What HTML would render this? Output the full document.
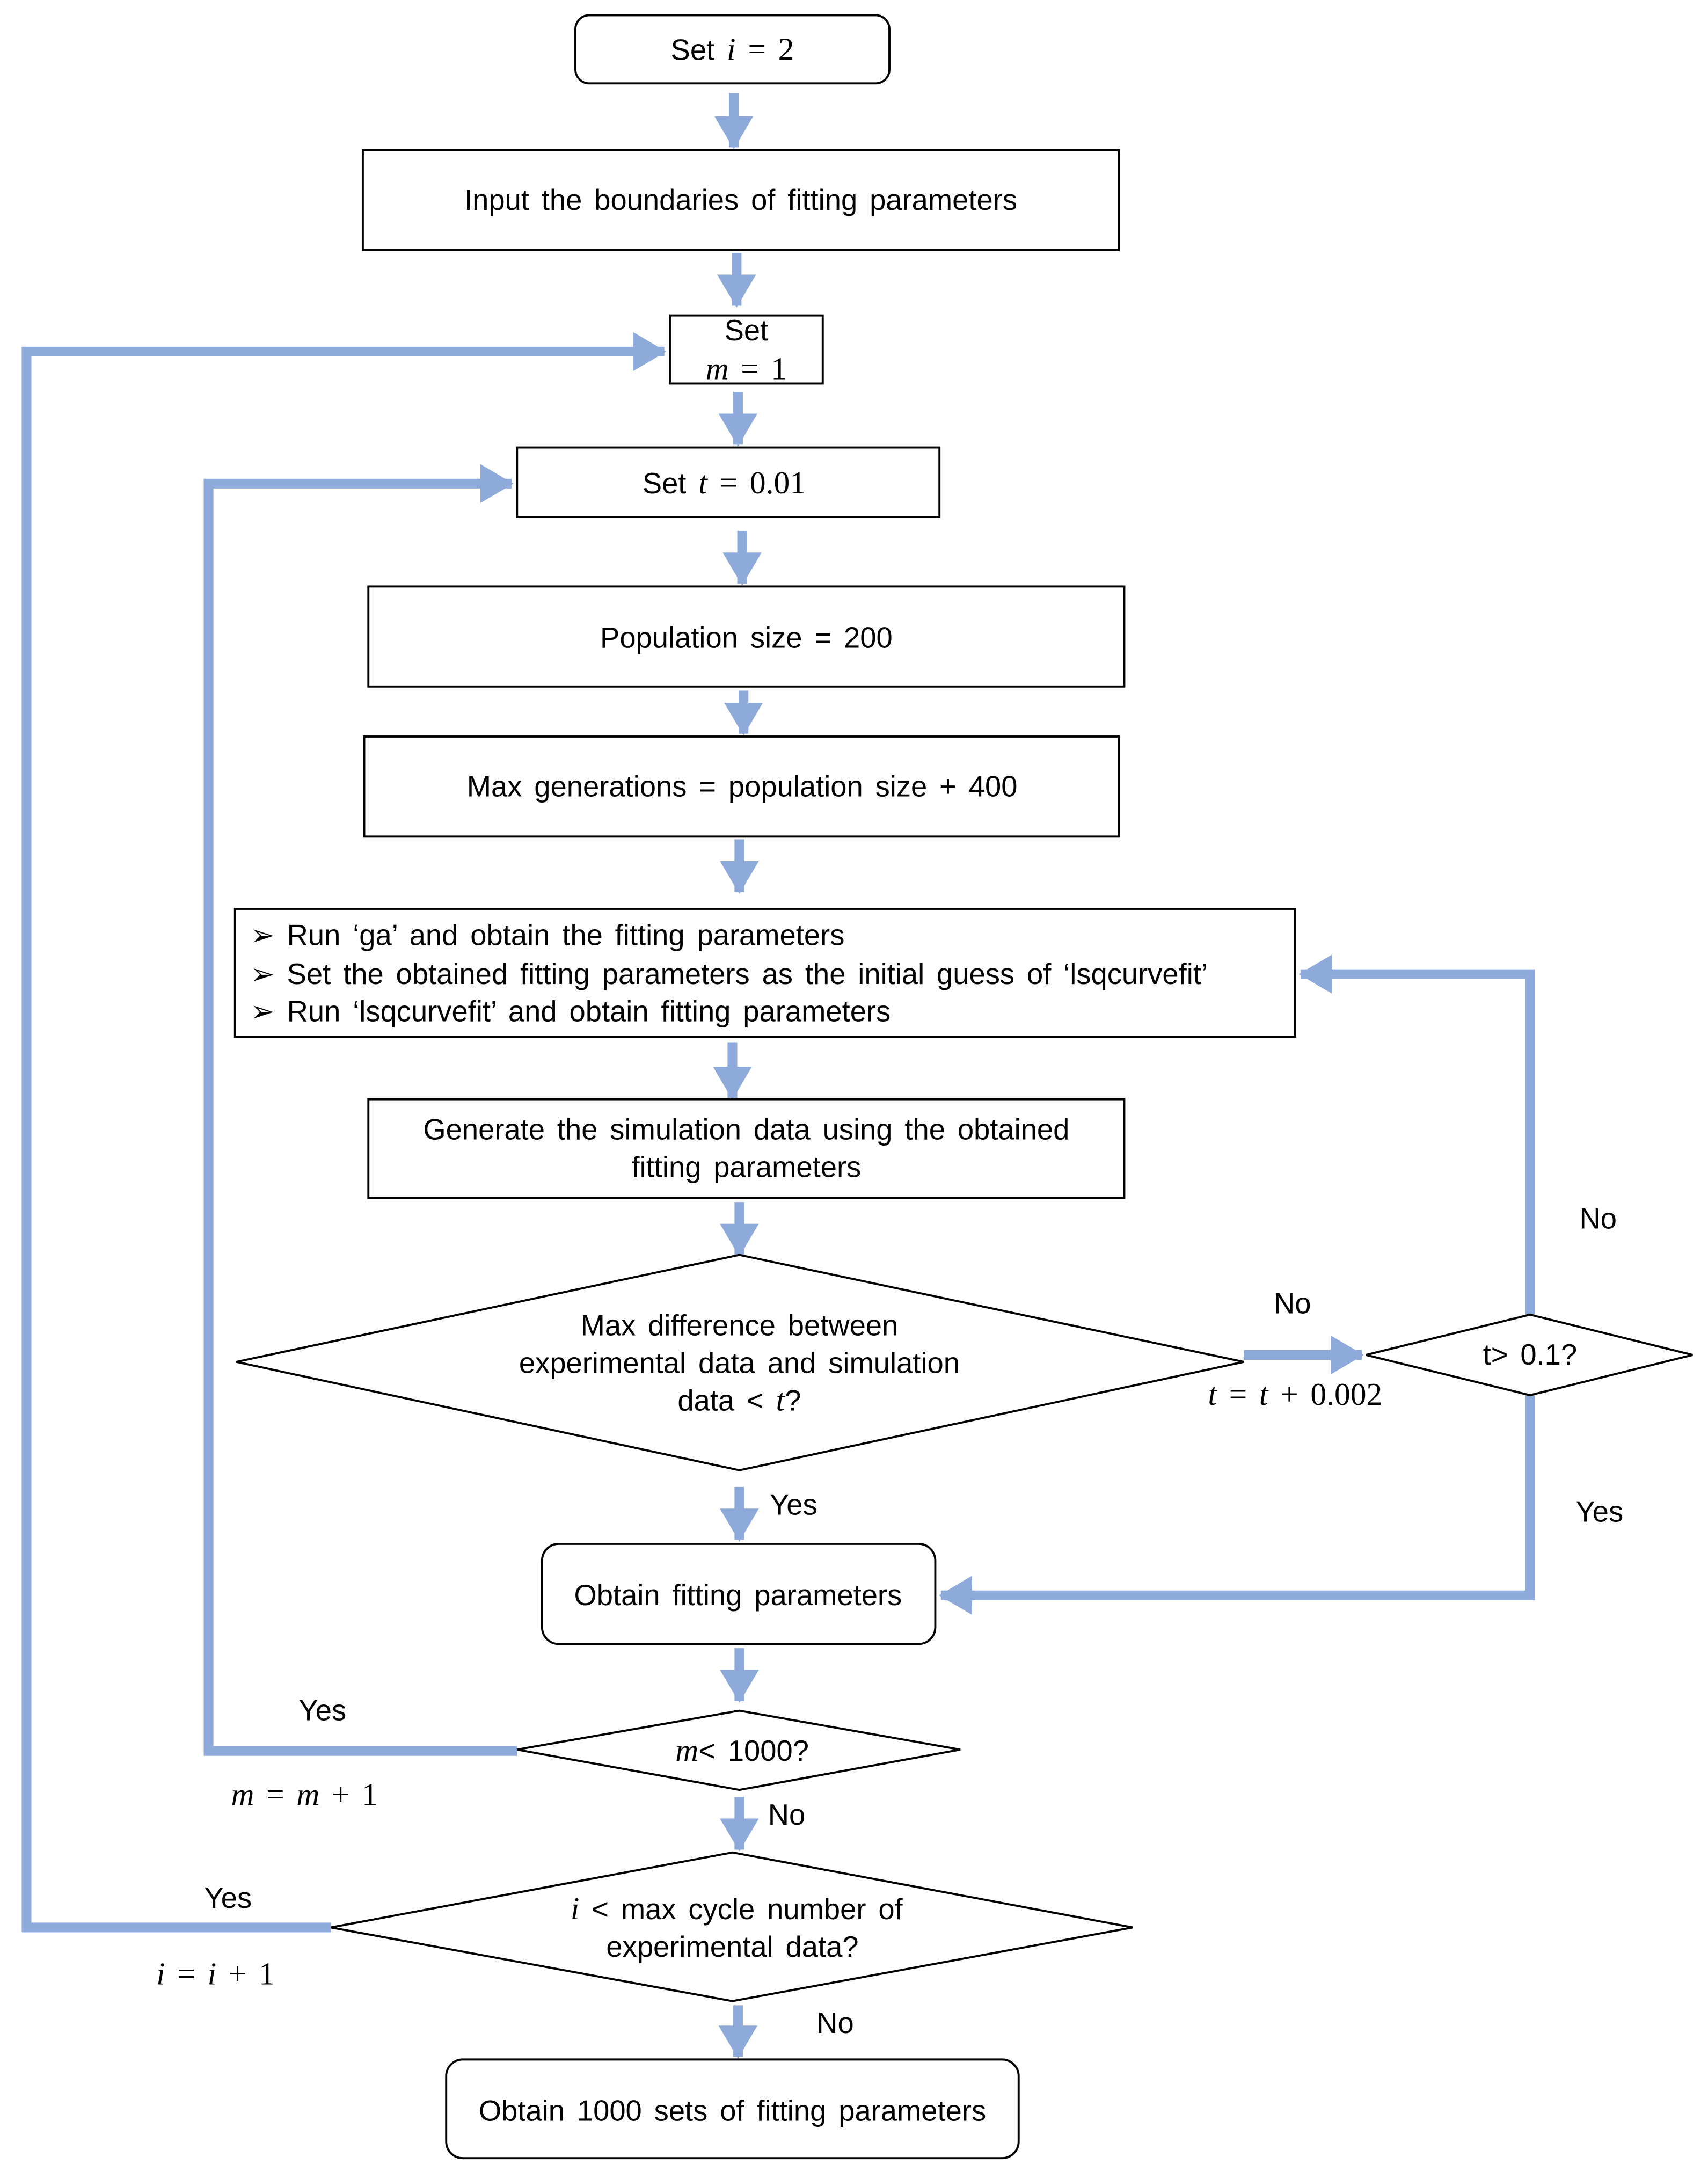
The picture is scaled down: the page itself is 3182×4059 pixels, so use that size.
<!DOCTYPE html>
<html><head><meta charset="utf-8"><style>html,body{margin:0;padding:0;background:#fff}svg{display:block}</style></head><body>
<svg width="3182" height="4059" viewBox="0 0 1229 1568" xmlns="http://www.w3.org/2000/svg">
<defs><marker id="a" markerWidth="4" markerHeight="4" refX="3.2" refY="2" orient="auto" markerUnits="strokeWidth"><path d="M0,0 L3.4,2 L0,4 z" fill="#8eaadb"/></marker></defs>
<g fill="none" stroke="#8eaadb" stroke-width="7" marker-end="url(#a)">
<path d="M528,67 V106"/><path d="M530,182 V220"/><path d="M531,282 V320"/><path d="M534,382 V420"/>
<path d="M535,497 V528"/><path d="M532,604 V642"/><path d="M527,750 V790"/><path d="M532,865 V903"/>
<path d="M895,975 H980"/><path d="M532,1070 V1108"/><path d="M532,1186 V1224"/><path d="M532,1293 V1331"/><path d="M531,1443 V1480"/>
<path d="M238,1387 H19 V253 H478"/><path d="M372,1260 H150 V348 H368"/>
<path d="M1101,946 V701 H936"/><path d="M1101,1004 V1148 H677"/>
</g>
<g fill="#fff" stroke="#000" stroke-width="1.5">
<rect x="414" y="11" width="226" height="49" rx="10"/>
<rect x="261" y="108" width="544" height="72"/>
<rect x="482" y="227" width="110" height="49"/>
<rect x="372" y="322" width="304" height="50"/>
<rect x="265" y="422" width="544" height="72"/>
<rect x="262" y="530" width="543" height="72"/>
<rect x="169" y="654" width="763" height="92"/>
<rect x="265" y="791" width="544" height="71"/>
<polygon points="170,980 532,903 895,980 532,1058"/>
<polygon points="983,975 1101,946 1218,975 1101,1004"/>
<rect x="390" y="1111" width="283" height="72" rx="12"/>
<polygon points="372,1259 532,1231 691,1259 532,1288"/>
<polygon points="238,1387 527,1333 815,1387 527,1440"/>
<rect x="321" y="1482" width="412" height="71" rx="12"/>
</g>
<g font-family="Liberation Sans, sans-serif" font-size="21" word-spacing="3" fill="#000" text-anchor="middle">
<text x="527" y="43">Set <tspan font-family="Liberation Serif" font-style="italic" font-size="23">i</tspan> <tspan font-family="Liberation Serif" font-size="23">= 2</tspan></text>
<text x="533" y="151">Input the boundaries of fitting parameters</text>
<text x="537" y="245">Set</text>
<text x="537" y="273" font-family="Liberation Serif" font-size="23"><tspan font-style="italic">m</tspan> = 1</text>
<text x="521" y="355">Set <tspan font-family="Liberation Serif" font-style="italic" font-size="23">t</tspan> <tspan font-family="Liberation Serif" font-size="23">= 0.01</tspan></text>
<text x="537" y="466">Population size = 200</text>
<text x="534" y="573">Max generations = population size + 400</text>
<g text-anchor="start">
<text x="180" y="680">➢  Run ‘ga’ and obtain the fitting parameters</text>
<text x="180" y="708">➢  Set the obtained fitting parameters as the initial guess of ‘lsqcurvefit’</text>
<text x="180" y="735">➢  Run ‘lsqcurvefit’ and obtain fitting parameters</text>
</g>
<text x="537" y="820">Generate the simulation data using the obtained</text>
<text x="537" y="847">fitting parameters</text>
<text x="532" y="961">Max difference between</text>
<text x="532" y="988">experimental data and simulation</text>
<text x="532" y="1015">data &lt; <tspan font-family="Liberation Serif" font-style="italic" font-size="23">t</tspan>?</text>
<text x="930" y="945">No</text>
<text x="932" y="1011" font-family="Liberation Serif" font-size="23"><tspan font-style="italic">t</tspan> = <tspan font-style="italic">t</tspan> + 0.002</text>
<text x="1101" y="982">t&gt; 0.1?</text>
<text x="1150" y="884">No</text>
<text x="1151" y="1095">Yes</text>
<text x="571" y="1090">Yes</text>
<text x="531" y="1155">Obtain fitting parameters</text>
<text x="232" y="1238">Yes</text>
<text x="534" y="1267"><tspan font-family="Liberation Serif" font-style="italic" font-size="23">m</tspan>&lt; 1000?</text>
<text x="219" y="1299" font-family="Liberation Serif" font-size="23"><tspan font-style="italic">m</tspan> = <tspan font-style="italic">m</tspan> + 1</text>
<text x="566" y="1313">No</text>
<text x="164" y="1373">Yes</text>
<text x="530" y="1381"><tspan font-family="Liberation Serif" font-style="italic" font-size="23">i</tspan> &lt; max cycle number of</text>
<text x="527" y="1408">experimental data?</text>
<text x="155" y="1428" font-family="Liberation Serif" font-size="23"><tspan font-style="italic">i</tspan> = <tspan font-style="italic">i</tspan> + 1</text>
<text x="601" y="1463">No</text>
<text x="527" y="1526">Obtain 1000 sets of fitting parameters</text>
</g>
</svg>
</body></html>
